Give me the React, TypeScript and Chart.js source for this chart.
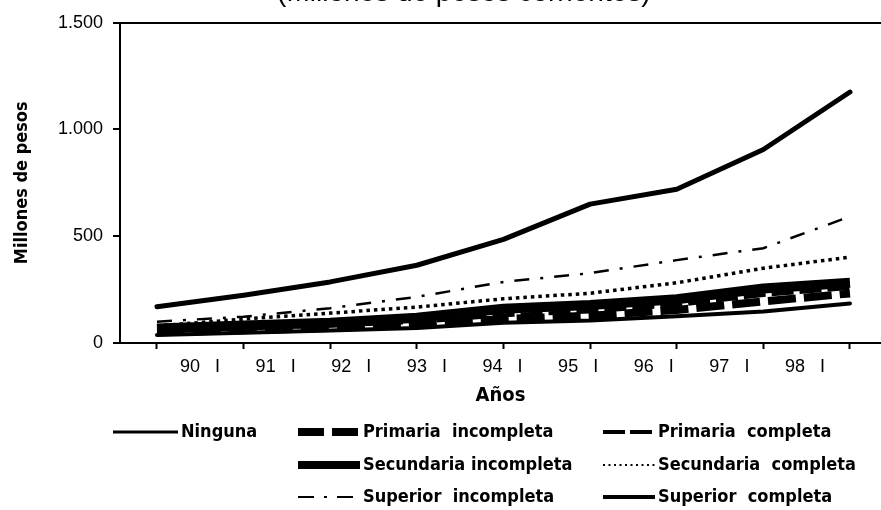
import React, { useEffect, useRef } from "react";
import { Chart, registerables } from "chart.js";

Chart.register(...registerables);

// ---- data ----
const xTickLabels = ["90   I", "91   I", "92   I", "93   I", "94   I", "95   I", "96   I", "97   I", "98   I"];
const yTickValues = [0, 500, 1000, 1500];

const ninguna = [170, 224, 286, 364, 485, 650, 720, 906, 1175];
const primariaIncompleta = [50, 60, 70, 85, 112, 128, 155, 195, 232];
const primariaCompleta = [58, 70, 82, 98, 130, 148, 178, 225, 258];
const secundariaIncompleta = [68, 82, 95, 118, 160, 178, 205, 255, 282];
const secundariaCompleta = [80, 112, 140, 168, 207, 233, 282, 350, 402];
const superiorIncompleta = [100, 123, 163, 216, 286, 327, 388, 444, 592];
const superiorCompleta = [38, 48, 58, 70, 95, 105, 125, 148, 185];

const TITLE = "      (Millones de pesos corrientes)";
const Y_TITLE = "Millones de pesos";
const X_TITLE = "Años";

// ---- styles ----
const REG = "'Liberation Sans', Arial, Helvetica, sans-serif";
const NARROW = "'Liberation Sans Narrow', 'Arial Narrow', 'DejaVu Sans Condensed', sans-serif";
const TOP_SHIFT = 24;
const W = 881;
const H = 510 + TOP_SHIFT;

const pts = (arr: number[]) => arr.map((v, i) => ({ x: i, y: v }));
const fmt = (v: number) => String(v).replace(/\B(?=(\d{3})+(?!\d))/g, ".");

const legendLayout = [
  { ds: 0, col: 0, row: 0 },
  { ds: 1, col: 1, row: 0 },
  { ds: 2, col: 2, row: 0 },
  { ds: 3, col: 1, row: 1 },
  { ds: 4, col: 2, row: 1 },
  { ds: 5, col: 1, row: 2 },
  { ds: 6, col: 2, row: 2 },
];
const colSample = [
  [113, 178],
  [298, 360],
  [603, 655],
];
const rowY = [432, 465, 497];

const legendPlugin = {
  id: "customLegend",
  afterDraw(chart: any) {
    const ctx = chart.ctx;
    legendLayout.forEach((it) => {
      const ds = chart.data.datasets[it.ds];
      const y = rowY[it.row] + TOP_SHIFT;
      const [x0, x1] = colSample[it.col];
      ctx.save();
      ctx.strokeStyle = ds.borderColor;
      ctx.lineWidth = ds.legendWidth ?? ds.borderWidth;
      ctx.setLineDash(ds.legendDash ?? ds.borderDash ?? []);
      ctx.lineCap = "butt";
      ctx.beginPath();
      ctx.moveTo(x0, y);
      ctx.lineTo(x1, y);
      ctx.stroke();
      ctx.setLineDash([]);
      ctx.fillStyle = "#000";
      ctx.font = `bold 18px ${NARROW}`;
      ctx.textBaseline = "middle";
      ctx.textAlign = "left";
      ctx.fillText(ds.label, x1 + 3, y);
      ctx.restore();
    });
  },
};

export default function App() {
  const ref = useRef<HTMLCanvasElement>(null);

  useEffect(() => {
    if (!ref.current) return;
    const base = {
      borderColor: "#000",
      backgroundColor: "#000",
      pointRadius: 0,
      pointHoverRadius: 0,
      tension: 0,
      fill: false,
      xAxisID: "x",
      yAxisID: "y",
    };
    const chart = new Chart(ref.current, {
      type: "line",
      data: {
        datasets: [
          { ...base, label: "Ninguna", data: pts(ninguna), borderWidth: 5, borderCapStyle: "round", borderJoinStyle: "round", legendWidth: 3 },
          { ...base, label: "Primaria  incompleta", data: pts(primariaIncompleta), borderWidth: 8, borderDash: [28, 8], legendDash: [26, 8] },
          { ...base, label: "Primaria  completa", data: pts(primariaCompleta), borderWidth: 4, borderDash: [22, 6], legendDash: [22, 5] },
          { ...base, label: "Secundaria incompleta", data: pts(secundariaIncompleta), borderWidth: 10, borderJoinStyle: "round", legendWidth: 8 },
          { ...base, label: "Secundaria  completa", data: pts(secundariaCompleta), borderWidth: 3.5, borderDash: [3.5, 4], legendWidth: 2, legendDash: [2, 3.5] },
          { ...base, label: "Superior  incompleta", data: pts(superiorIncompleta), borderWidth: 2.5, borderDash: [15, 11, 3, 11], legendWidth: 2, legendDash: [16, 10, 3, 10] },
          { ...base, label: "Superior  completa", data: pts(superiorCompleta), borderWidth: 4, borderCapStyle: "round", borderJoinStyle: "round" },
        ] as any,
      },
      options: {
        responsive: false,
        animation: false,
        layout: { padding: { left: 0, right: 0, top: 0, bottom: 99 } },
        plugins: {
          legend: { display: false },
          tooltip: { enabled: false },
          title: {
            display: true,
            text: TITLE,
            color: "#000",
            font: { family: REG, size: 28, weight: "normal" },
            padding: { top: 0, bottom: 13 },
          },
        },
        scales: {
          x: {
            type: "linear",
            position: "bottom",
            min: -0.427,
            max: 8.358,
            afterBuildTicks: (s: any) => {
              s.ticks = xTickLabels.map((_, i) => ({ value: i }));
            },
            ticks: { display: false },
            grid: { drawOnChartArea: false, tickColor: "#000", tickLength: 6, tickWidth: 2 },
            border: { color: "#000", width: 2 },
            afterFit: (s: any) => {
              s.height = 6;
            },
          },
          x2: {
            type: "linear",
            position: "bottom",
            min: -1.058,
            max: 9.005,
            afterBuildTicks: (s: any) => {
              s.ticks = xTickLabels.map((_, i) => ({ value: i }));
            },
            ticks: {
              callback: (v: any) => xTickLabels[v] ?? "",
              color: "#000",
              font: { family: REG, size: 18 },
              padding: 7,
              maxRotation: 0,
              autoSkip: false,
            },
            grid: { display: false, drawTicks: false },
            border: { display: false },
            title: {
              display: true,
              text: X_TITLE,
              color: "#000",
              font: { family: NARROW, size: 20, weight: "bold" },
              padding: { top: 0, bottom: 3 },
            },
            afterFit: (s: any) => {
              s.height = 62;
            },
          },
          y: {
            type: "linear",
            min: 0,
            max: 1500,
            afterBuildTicks: (s: any) => {
              s.ticks = yTickValues.map((v) => ({ value: v }));
            },
            ticks: {
              callback: (v: any) => fmt(Number(v)),
              color: "#000",
              font: { family: REG, size: 18 },
              padding: 10,
            },
            grid: {
              color: (c: any) => (c.tick && c.tick.value === 1500 ? "#000" : "rgba(0,0,0,0)"),
              lineWidth: 2,
              tickColor: "#000",
              tickLength: 7,
              tickWidth: 2,
            },
            border: { color: "#000", width: 2 },
            title: {
              display: true,
              text: Y_TITLE,
              color: "#000",
              font: { family: NARROW, size: 18, weight: "bold" },
              padding: { top: 12, bottom: 4 },
            },
            afterFit: (s: any) => {
              s.width = 120;
            },
          },
        },
      } as any,
      plugins: [legendPlugin],
    });
    return () => chart.destroy();
  }, []);

  return (
    <div style={{ position: "absolute", left: 0, top: -TOP_SHIFT, width: W, height: H, background: "#fff" }}>
      <canvas ref={ref} width={W} height={H} style={{ display: "block" }} />
    </div>
  );
}
